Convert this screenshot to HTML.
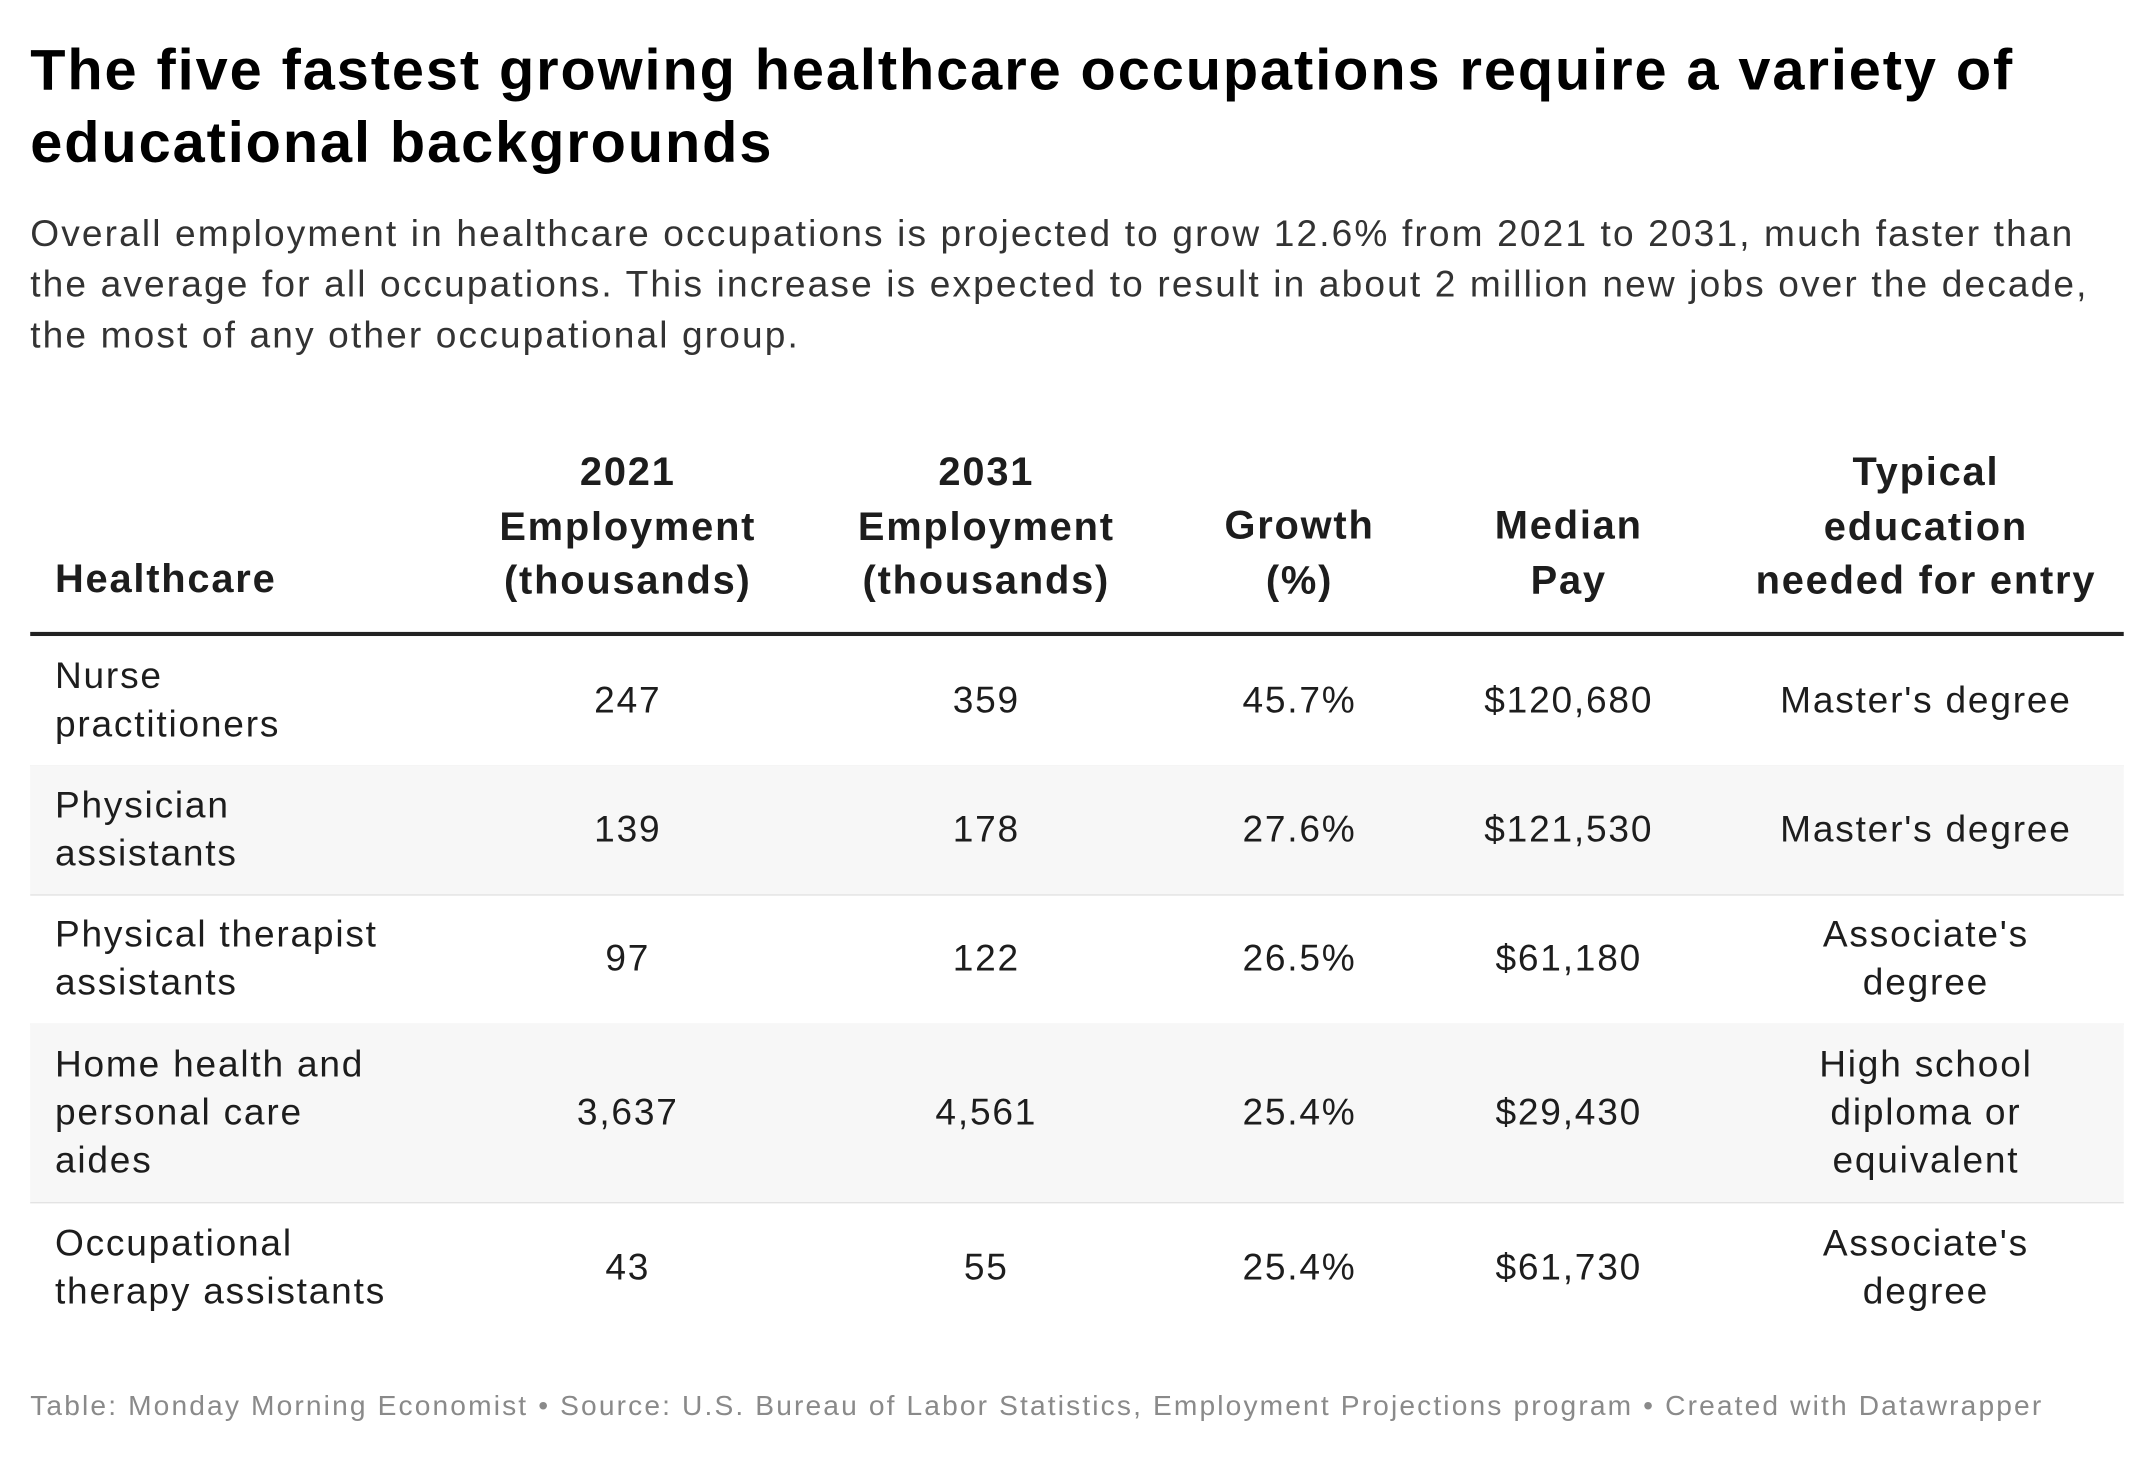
<!DOCTYPE html>
<html><head><meta charset="utf-8"><style>
html,body{margin:0;padding:0;background:#fff;}
body{width:2154px;height:1458px;overflow:hidden;position:relative;}
#wrap{position:absolute;left:0;top:0;width:1568px;height:1062px;transform:scale(1.3737);transform-origin:0 0;font-family:"Liberation Sans",sans-serif;color:#1d1d1d;}
.t{position:absolute;white-space:nowrap;}
h1{position:absolute;left:22px;top:24px;margin:0;font-size:42px;line-height:53px;font-weight:bold;letter-spacing:1.4px;white-space:nowrap;color:#000;}
.sub{left:22px;top:152px;font-size:27px;line-height:37px;color:#333;letter-spacing:1.55px;}
.hd{font-weight:bold;font-size:29px;line-height:39.5px;text-align:center;letter-spacing:1.3px;}
.row{position:absolute;left:22px;width:1524px;border-bottom:1.5px solid #e3e3e3;}
.c{position:absolute;top:50%;transform:translate(-50%,-50%);text-align:center;font-size:27px;line-height:35px;white-space:nowrap;letter-spacing:1.3px;}
.l{position:absolute;left:18px;top:50%;transform:translateY(-50%);font-size:27px;line-height:35px;white-space:nowrap;letter-spacing:1.3px;}
</style></head><body>
<div id="wrap">
<h1>The five fastest growing healthcare occupations require a variety of<br>educational backgrounds</h1>
<div class="t sub">Overall employment in healthcare occupations is projected to grow 12.6% from 2021 to 2031, much faster than<br>the average for all occupations. This increase is expected to result in about 2 million new jobs over the decade,<br>the most of any other occupational group.</div>

<div class="t hd" style="left:40px;top:403px;text-align:left">Healthcare</div>
<div class="t hd" style="left:457px;top:325px;transform:translateX(-50%)">2021<br>Employment<br>(thousands)</div>
<div class="t hd" style="left:718px;top:325px;transform:translateX(-50%)">2031<br>Employment<br>(thousands)</div>
<div class="t hd" style="left:946px;top:364px;transform:translateX(-50%)">Growth<br>(%)</div>
<div class="t hd" style="left:1142px;top:364px;transform:translateX(-50%)">Median<br>Pay</div>
<div class="t hd" style="left:1402px;top:325px;transform:translateX(-50%)">Typical<br>education<br>needed for entry</div>
<div style="position:absolute;left:22px;top:460px;width:1524px;height:3px;background:#222"></div>

<div id="rows"></div>

<div class="t" style="left:22px;top:1012px;font-size:20.5px;color:#8a8a8a;letter-spacing:1.55px">Table: Monday Morning Economist • Source: U.S. Bureau of Labor Statistics, Employment Projections program • Created with Datawrapper</div>
</div>
<script>
const occupations=["Nurse<br>practitioners","Physician<br>assistants","Physical therapist<br>assistants","Home health and<br>personal care<br>aides","Occupational<br>therapy assistants"];
const emp2021=["247","139","97","3,637","43"];
const emp2031=["359","178","122","4,561","55"];
const growth=["45.7%","27.6%","26.5%","25.4%","25.4%"];
const pay=["$120,680","$121,530","$61,180","$29,430","$61,730"];
const education=["Master's degree","Master's degree","Associate's<br>degree","High school<br>diploma or<br>equivalent","Associate's<br>degree"];
const rowTops=[463,557,651,745,875];
const rowHeights=[94,94,94,130,96];
const cx=[457,718,946,1142,1402];
const rows=document.getElementById('rows');
occupations.forEach((o,i)=>{
  const r=document.createElement('div');
  r.className='row';
  
  
  r.style.top=rowTops[i]+'px';r.style.height=rowHeights[i]+'px';
  if(i%2==1)r.style.background='#f7f7f7';
  if(i==4)r.style.borderBottom='none';
  const l=document.createElement('div');l.className='l';l.innerHTML=o;
  
  
  r.appendChild(l);
  [emp2021[i],emp2031[i],growth[i],pay[i],education[i]].forEach((v,j)=>{
    const c=document.createElement('div');c.className='c';c.innerHTML=v;
    
    
    c.style.left=(cx[j]-22)+'px';
    r.appendChild(c);
  });
  rows.appendChild(r);
});
</script>
</body></html>
